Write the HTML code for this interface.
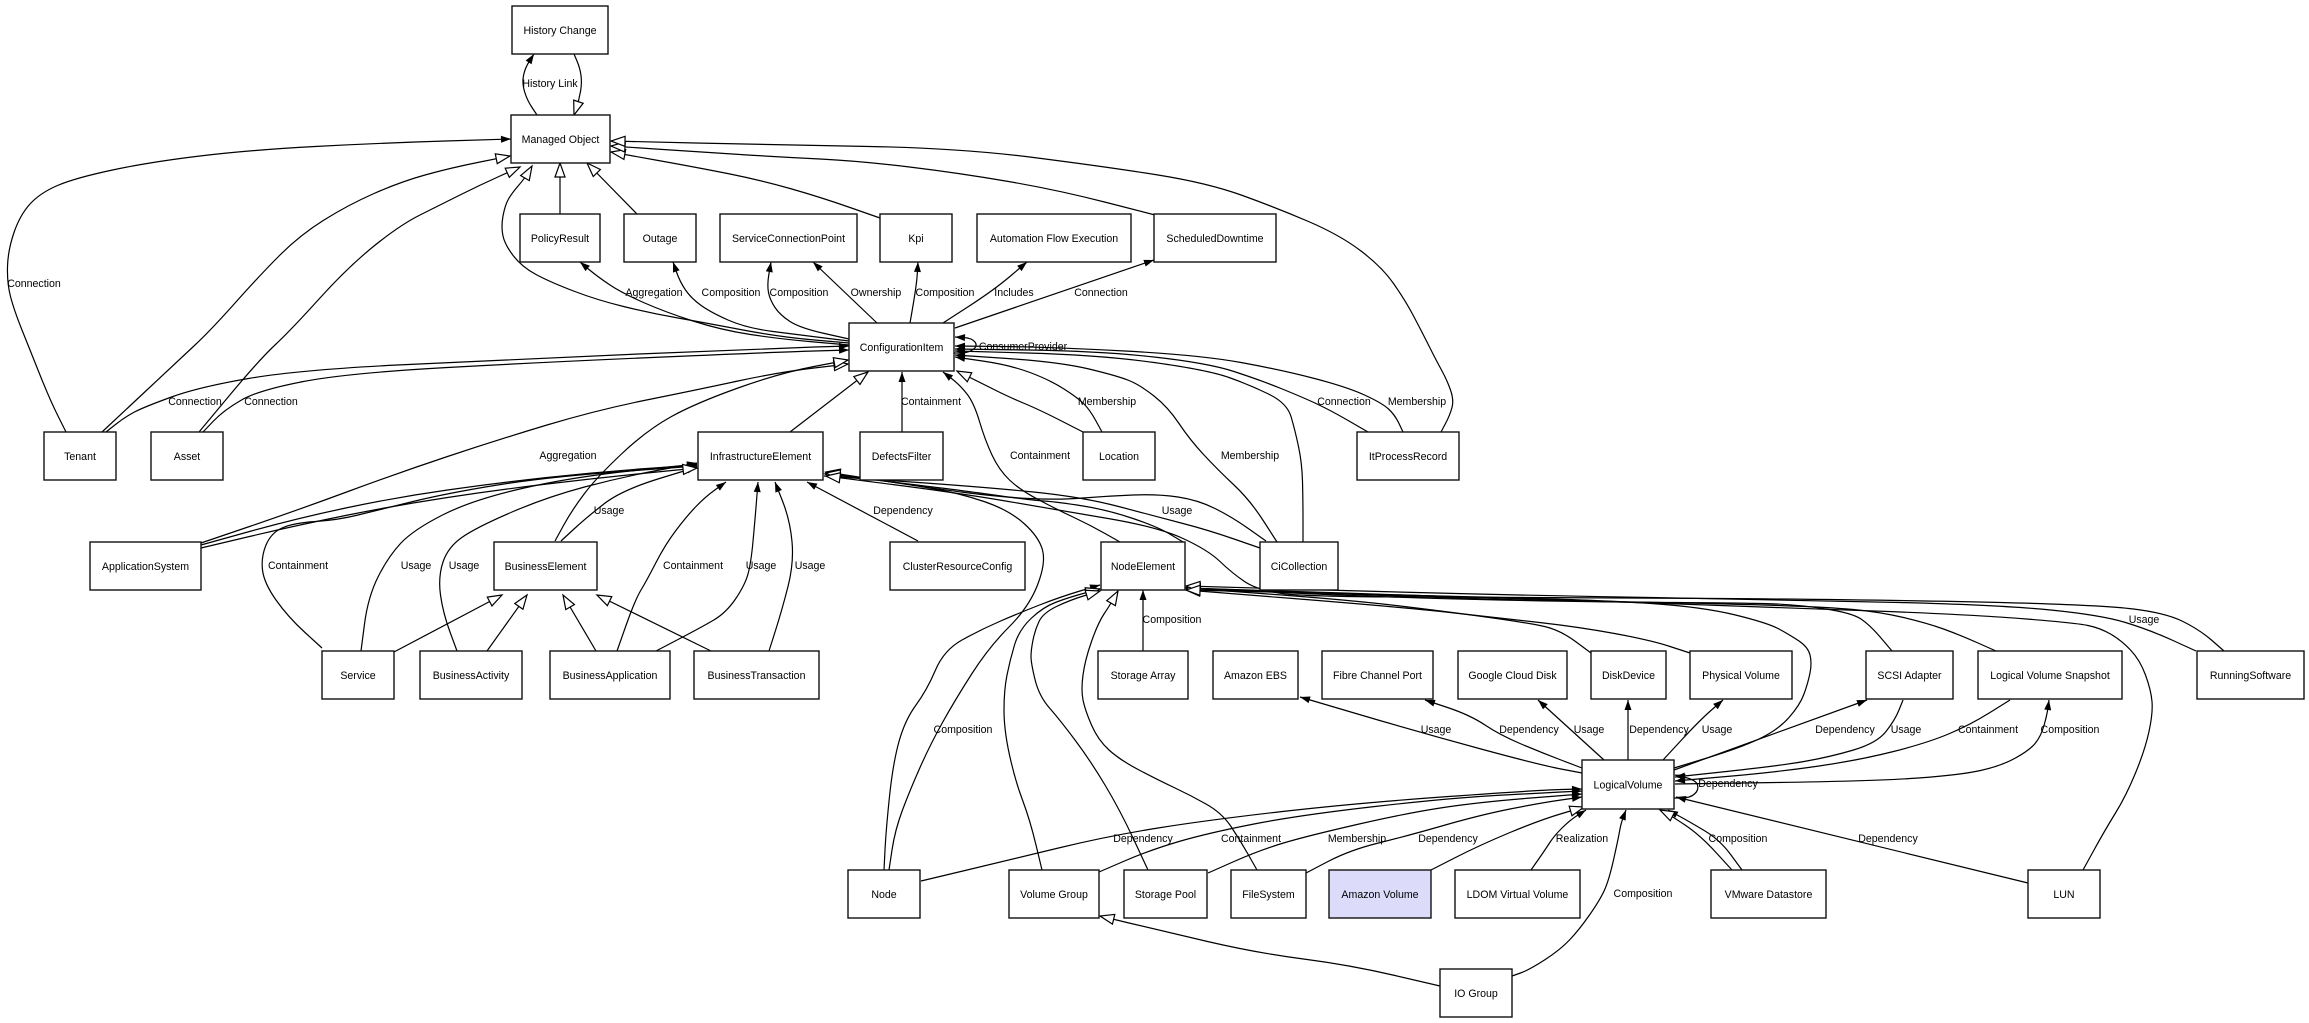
<!DOCTYPE html>
<html><head><meta charset="utf-8"><title>diagram</title>
<style>
html,body{margin:0;padding:0;background:#fff;}
svg{display:block;}
text{font-family:"Liberation Sans",Arial,sans-serif;font-size:10.6px;fill:#000;}
</style></head>
<body>
<svg width="2309" height="1023" viewBox="0 0 2309 1023" xmlns="http://www.w3.org/2000/svg">
<defs>
<marker id="f" markerUnits="userSpaceOnUse" markerWidth="12" markerHeight="8" refX="10" refY="3.5" orient="auto" overflow="visible"><path d="M0,0 L10,3.5 L0,7 z" fill="#000"/></marker>
<marker id="h" markerUnits="userSpaceOnUse" markerWidth="18" markerHeight="14" refX="15" refY="6" orient="auto" overflow="visible"><path d="M1,1 L15,6 L1,11 z" fill="#fff" stroke="#000" stroke-width="1.2"/></marker>
</defs>
<rect width="2309" height="1023" fill="#fff"/>

<g fill="none" stroke="#000" stroke-width="1.2" stroke-linejoin="round">
<!-- filled-arrow edges -->
<g marker-end="url(#f)">
<polyline points="537,115 527,100 522,83 525,68 534,54"/>
<polyline points="66,432 50,400 30,350 14,310 7,283 8,250 20,215 40,193 75,178 150,162 250,150 380,143 511,139"/>
<polyline points="849,345 780,339 721,330 665,312 622,293 598,277 580,262"/>
<polyline points="849,341 800,335 746,328 710,312 691,298 680,282 673,262"/>
<polyline points="849,339 800,328 780,315 770,300 767,285 771,262"/>
<polyline points="877,323 813,262"/>
<polyline points="910,323 914,300 917,280 918,262"/>
<polyline points="943,323 994,290 1027,262"/>
<polyline points="955,328 1154,260"/>
<polyline points="954,353 968,353 978,346 972,338 955,337"/>
<polyline points="902,432 902,372"/>
<polyline points="1120,542 1090,525 1058,510 1020,490 999,470 985,440 974,403 960,385 943,372"/>
<polyline points="1102,432 1090,410 1078,398 1050,380 1010,365 955,357"/>
<polyline points="1277,542 1250,500 1218,470 1190,440 1168,407 1140,385 1118,376 1060,362 955,355"/>
<polyline points="1303,542 1303,500 1302,463 1295,430 1287,403 1250,385 1208,370 1100,355 955,351"/>
<polyline points="1368,432 1330,410 1302,397 1260,380 1208,363 1100,351 955,349"/>
<polyline points="1403,432 1395,415 1382,403 1347,387 1282,370 1200,355 1050,347 955,346"/>
<polyline points="106,432 125,417 144,407 199,387 298,370 497,360 780,348 849,346"/>
<polyline points="203,432 224,410 259,390 348,373 547,362 780,352 849,350"/>
<polyline points="201,545 298,518 398,497 497,483 597,472 697,465"/>
<polyline points="322,648 288,617 264,583 261,557 271,533 293,523 338,520 378,510 448,493 547,477 697,466"/>
<polyline points="361,651 368,597 388,557 413,530 472,500 572,477 697,464"/>
<polyline points="457,651 443,613 438,577 448,547 477,527 547,497 622,477 697,463"/>
<polyline points="561,541 587,517 622,490 697,467"/>
<polyline points="617,651 635,600 647,580 665,545 686,517 705,497 726,482"/>
<polyline points="656,651 700,628 726,613 745,585 751,563 755,520 758,482"/>
<polyline points="769,651 782,610 794,563 790,520 775,482"/>
<polyline points="918,541 807,482"/>
<polyline points="1260,548 1208,530 1158,517 1083,497 984,487 824,476"/>
<polyline points="1143,651 1143,590"/>
<polyline points="884,870 886,830 893,763 905,720 927,690 944,650 980,630 1019,613 1060,597 1100,585"/>
<polyline points="1582,773 1540,765 1422,733 1300,697"/>
<polyline points="1582,768 1540,752 1500,735 1470,715 1425,700"/>
<polyline points="1604,760 1538,700"/>
<polyline points="1628,760 1628,700"/>
<polyline points="1663,760 1700,720 1723,700"/>
<polyline points="1674,770 1867,700"/>
<polyline points="1903,700 1895,720 1877,743 1830,757 1778,766 1675,777"/>
<polyline points="2010,700 1970,725 1927,743 1860,760 1778,772 1675,781"/>
<polyline points="1675,784 1877,781 1960,775 2001,766 2030,750 2041,736 2047,715 2049,700"/>
<polyline points="1674,798 1690,798 1699,790 1696,780 1675,775"/>
<polyline points="921,881 1009,860 1108,836 1208,820 1357,803 1540,790 1582,789"/>
<polyline points="1099,872 1150,850 1208,833 1300,815 1450,798 1540,793 1582,791"/>
<polyline points="1208,873 1260,850 1307,836 1407,813 1480,802 1582,794"/>
<polyline points="1306,873 1350,850 1407,836 1480,815 1540,803 1582,797"/>
<polyline points="1531,870 1545,850 1554,836 1570,820 1586,810"/>
<polyline points="1512,976 1529,970 1560,950 1579,930 1600,900 1609,880 1618,840 1621,823 1626,810"/>
<polyline points="1742,870 1720,840 1690,822 1668,810"/>
<polyline points="2028,883 1676,797"/>
</g>
<!-- hollow-arrow edges -->
<g marker-end="url(#h)">
<polyline points="574,54 580,68 582,83 579,100 574,115"/>
<polyline points="102,432 179,360 211,330 260,275 300,235 348,205 400,182 450,168 510,156"/>
<polyline points="199,432 259,360 291,330 348,267 400,225 440,205 480,185 520,167"/>
<polyline points="849,343 780,337 706,323 650,313 597,300 550,282 522,267 505,245 501,227 505,205 512,193 525,178 532,166"/>
<polyline points="560,214 560,163"/>
<polyline points="637,214 587,163"/>
<polyline points="880,218 820,197 760,180 700,168 611,152"/>
<polyline points="1155,215 1058,190 959,173 860,161 780,157 700,152 611,146"/>
<polyline points="1441,432 1450,415 1454,400 1447,380 1436,360 1421,330 1405,300 1382,267 1340,235 1277,208 1208,183 1108,167 959,148 780,145 611,141"/>
<polyline points="790,432 868,372"/>
<polyline points="1083,432 1040,410 1009,397 985,385 957,371"/>
<polyline points="201,543 298,510 398,473 497,440 597,410 696,390 780,372 848,364"/>
<polyline points="555,541 572,510 597,477 647,430 696,403 780,373 848,360"/>
<polyline points="201,548 298,525 398,505 497,490 597,478 697,468"/>
<polyline points="394,652 502,595"/>
<polyline points="487,651 527,595"/>
<polyline points="596,651 563,595"/>
<polyline points="711,651 597,595"/>
<polyline points="1183,542 1158,527 1108,510 1058,502 1029,500 959,490 825,474"/>
<polyline points="1266,541 1232,517 1198,500 1158,494 1108,496 1058,500 1000,497 930,488 826,472"/>
<polyline points="889,870 895,830 910,790 930,745 955,700 989,647 1029,607 1046,563 1039,537 1009,510 959,493 900,483 826,473"/>
<polyline points="2224,651 2200,630 2166,613 2101,605 1900,600 1540,597 1307,597 1257,590 1232,573 1208,550 1158,527 1058,510 959,493 826,476"/>
<polyline points="1042,870 1030,820 1015,780 1004,730 1004,690 1010,660 1019,630 1043,607 1070,597 1100,589"/>
<polyline points="1148,870 1120,810 1090,760 1060,720 1039,696 1031,663 1031,650 1035,630 1043,613 1070,600 1100,591"/>
<polyline points="1257,870 1240,840 1222,813 1190,795 1158,780 1120,760 1098,740 1085,710 1081,690 1085,660 1098,623 1110,605 1118,591"/>
<polyline points="1591,653 1560,630 1529,623 1450,612 1350,600 1186,588"/>
<polyline points="1690,653 1650,640 1579,627 1500,618 1400,607 1186,590"/>
<polyline points="1892,651 1870,625 1852,613 1800,605 1753,603 1600,602 1400,598 1186,588"/>
<polyline points="1996,651 1960,635 1927,623 1880,612 1827,607 1700,603 1500,600 1186,588"/>
<polyline points="2083,870 2105,830 2126,796 2145,750 2153,713 2151,690 2140,660 2121,640 2100,628 2076,623 1977,615 1800,608 1500,598 1186,588"/>
<polyline points="2196,651 2150,630 2101,615 2000,605 1800,600 1500,595 1186,586"/>
<polyline points="1674,768 1740,748 1778,730 1800,705 1808,683 1812,663 1808,647 1790,635 1768,623 1703,607 1600,600 1400,595 1186,590"/>
<polyline points="1431,870 1480,845 1540,820 1584,807"/>
<polyline points="1440,986 1350,965 1257,953 1158,930 1100,916"/>
<polyline points="1732,870 1700,835 1670,815 1660,810"/>
</g>
</g>

<!-- nodes -->
<g fill="#fff" stroke="#111" stroke-width="1.4">
<rect x="512" y="6" width="96" height="48"/>
<rect x="511" y="115" width="99" height="48"/>
<rect x="520" y="214" width="80" height="48"/>
<rect x="624" y="214" width="72" height="48"/>
<rect x="720" y="214" width="137" height="48"/>
<rect x="880" y="214" width="72" height="48"/>
<rect x="977" y="214" width="154" height="48"/>
<rect x="1154" y="214" width="122" height="48"/>
<rect x="849" y="323" width="105" height="48"/>
<rect x="44" y="432" width="72" height="48"/>
<rect x="151" y="432" width="72" height="48"/>
<rect x="698" y="432" width="125" height="48"/>
<rect x="860" y="432" width="83" height="48"/>
<rect x="1083" y="432" width="72" height="48"/>
<rect x="1357" y="432" width="102" height="48"/>
<rect x="90" y="542" width="111" height="48"/>
<rect x="494" y="542" width="103" height="48"/>
<rect x="890" y="542" width="135" height="48"/>
<rect x="1101" y="542" width="84" height="48"/>
<rect x="1260" y="542" width="78" height="48"/>
<rect x="322" y="651" width="72" height="48"/>
<rect x="420" y="651" width="102" height="48"/>
<rect x="550" y="651" width="120" height="48"/>
<rect x="694" y="651" width="125" height="48"/>
<rect x="1098" y="651" width="90" height="48"/>
<rect x="1213" y="651" width="85" height="48"/>
<rect x="1322" y="651" width="111" height="48"/>
<rect x="1458" y="651" width="109" height="48"/>
<rect x="1591" y="651" width="75" height="48"/>
<rect x="1690" y="651" width="102" height="48"/>
<rect x="1866" y="651" width="87" height="48"/>
<rect x="1978" y="651" width="144" height="48"/>
<rect x="2197" y="651" width="107" height="48"/>
<rect x="1582" y="760" width="92" height="49"/>
<rect x="848" y="870" width="72" height="48"/>
<rect x="1009" y="870" width="90" height="48"/>
<rect x="1124" y="870" width="83" height="48"/>
<rect x="1231" y="870" width="75" height="48"/>
<rect x="1329" y="870" width="102" height="48" fill="#dcdcfa"/>
<rect x="1455" y="870" width="125" height="48"/>
<rect x="1711" y="870" width="115" height="48"/>
<rect x="2028" y="870" width="72" height="48"/>
<rect x="1440" y="969" width="72" height="48"/>
</g>

<g text-anchor="middle">
<text x="560" y="34">History Change</text>
<text x="560.5" y="143">Managed Object</text>
<text x="560" y="242">PolicyResult</text>
<text x="660" y="242">Outage</text>
<text x="788.5" y="242">ServiceConnectionPoint</text>
<text x="916" y="242">Kpi</text>
<text x="1054" y="242">Automation Flow Execution</text>
<text x="1215" y="242">ScheduledDowntime</text>
<text x="901.5" y="351">ConfigurationItem</text>
<text x="80" y="460">Tenant</text>
<text x="187" y="460">Asset</text>
<text x="760.5" y="460">InfrastructureElement</text>
<text x="901.5" y="460">DefectsFilter</text>
<text x="1119" y="460">Location</text>
<text x="1408" y="460">ItProcessRecord</text>
<text x="145.5" y="570">ApplicationSystem</text>
<text x="545.5" y="570">BusinessElement</text>
<text x="957.5" y="570">ClusterResourceConfig</text>
<text x="1143" y="570">NodeElement</text>
<text x="1299" y="570">CiCollection</text>
<text x="358" y="679">Service</text>
<text x="471" y="679">BusinessActivity</text>
<text x="610" y="679">BusinessApplication</text>
<text x="756.5" y="679">BusinessTransaction</text>
<text x="1143" y="679">Storage Array</text>
<text x="1255.5" y="679">Amazon EBS</text>
<text x="1377.5" y="679">Fibre Channel Port</text>
<text x="1512.5" y="679">Google Cloud Disk</text>
<text x="1628.5" y="679">DiskDevice</text>
<text x="1741" y="679">Physical Volume</text>
<text x="1909.5" y="679">SCSI Adapter</text>
<text x="2050" y="679">Logical Volume Snapshot</text>
<text x="2250.5" y="679">RunningSoftware</text>
<text x="1628" y="788.5">LogicalVolume</text>
<text x="884" y="898">Node</text>
<text x="1054" y="898">Volume Group</text>
<text x="1165.5" y="898">Storage Pool</text>
<text x="1268.5" y="898">FileSystem</text>
<text x="1380" y="898">Amazon Volume</text>
<text x="1517.5" y="898">LDOM Virtual Volume</text>
<text x="1768.5" y="898">VMware Datastore</text>
<text x="2064" y="898">LUN</text>
<text x="1476" y="997">IO Group</text>

<!-- edge labels -->
<text x="550" y="87">History Link</text>
<text x="34" y="287">Connection</text>
<text x="654" y="296">Aggregation</text>
<text x="731" y="296">Composition</text>
<text x="799" y="296">Composition</text>
<text x="876" y="296">Ownership</text>
<text x="945" y="296">Composition</text>
<text x="1014" y="296">Includes</text>
<text x="1101" y="296">Connection</text>
<text x="1023" y="350">ConsumerProvider</text>
<text x="195" y="405">Connection</text>
<text x="271" y="405">Connection</text>
<text x="931" y="405">Containment</text>
<text x="1107" y="405">Membership</text>
<text x="1344" y="405">Connection</text>
<text x="1417" y="405">Membership</text>
<text x="568" y="459">Aggregation</text>
<text x="1040" y="459">Containment</text>
<text x="1250" y="459">Membership</text>
<text x="609" y="514">Usage</text>
<text x="903" y="514">Dependency</text>
<text x="1177" y="514">Usage</text>
<text x="298" y="569">Containment</text>
<text x="416" y="569">Usage</text>
<text x="464" y="569">Usage</text>
<text x="693" y="569">Containment</text>
<text x="761" y="569">Usage</text>
<text x="810" y="569">Usage</text>
<text x="1172" y="623">Composition</text>
<text x="2144" y="623">Usage</text>
<text x="963" y="733">Composition</text>
<text x="1436" y="733">Usage</text>
<text x="1529" y="733">Dependency</text>
<text x="1589" y="733">Usage</text>
<text x="1659" y="733">Dependency</text>
<text x="1717" y="733">Usage</text>
<text x="1845" y="733">Dependency</text>
<text x="1906" y="733">Usage</text>
<text x="1988" y="733">Containment</text>
<text x="2070" y="733">Composition</text>
<text x="1728" y="787">Dependency</text>
<text x="1143" y="842">Dependency</text>
<text x="1251" y="842">Containment</text>
<text x="1357" y="842">Membership</text>
<text x="1448" y="842">Dependency</text>
<text x="1582" y="842">Realization</text>
<text x="1738" y="842">Composition</text>
<text x="1888" y="842">Dependency</text>
<text x="1643" y="897">Composition</text>
</g>
</svg>
<script>
(function(){
  var NS='http://www.w3.org/2000/svg';
  var pls=document.querySelectorAll('polyline');
  for(var k=0;k<pls.length;k++){
    var pl=pls[k];
    var pts=pl.getAttribute('points').trim().split(/\s+/).map(function(s){return s.split(',').map(Number);});
    if(pts.length<3) continue;
    var d='M'+pts[0][0]+','+pts[0][1];
    d+=' L'+((pts[0][0]+pts[1][0])/2)+','+((pts[0][1]+pts[1][1])/2);
    for(var i=1;i<pts.length-1;i++){
      var mx=(pts[i][0]+pts[i+1][0])/2, my=(pts[i][1]+pts[i+1][1])/2;
      d+=' Q'+pts[i][0]+','+pts[i][1]+' '+mx+','+my;
    }
    var n=pts.length-1;
    d+=' L'+pts[n][0]+','+pts[n][1];
    var p=document.createElementNS(NS,'path');
    p.setAttribute('d',d);
    pl.parentNode.replaceChild(p,pl);
  }
})();
</script>
</body></html>
